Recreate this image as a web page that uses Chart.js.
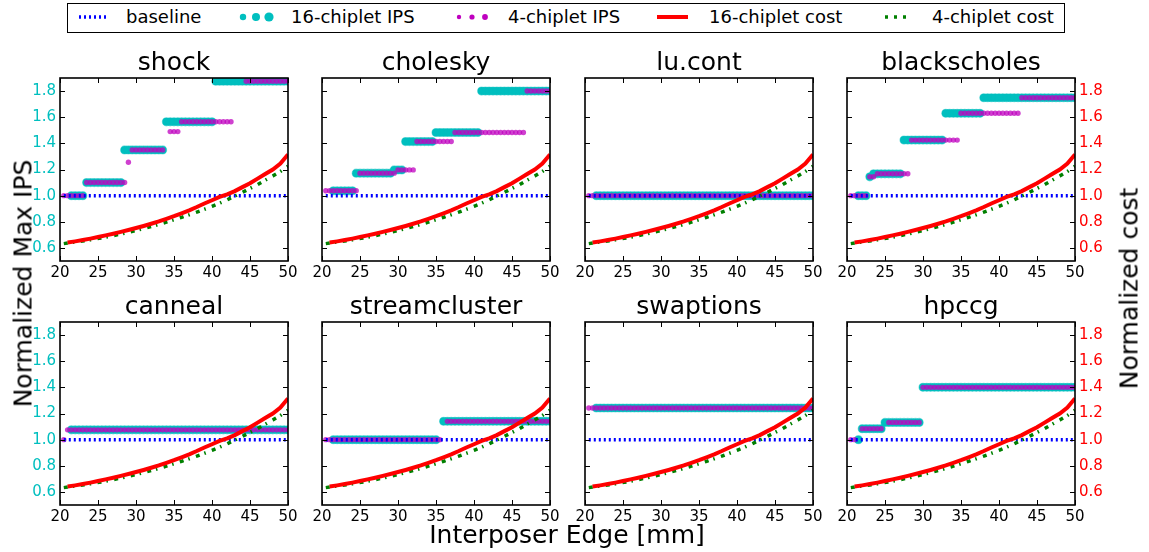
<!DOCTYPE html>
<html>
<head>
<meta charset="utf-8">
<script src="https://cdn.jsdelivr.net/npm/chart.js@4.4.1/dist/chart.umd.min.js"></script>
<style>
  body { margin: 0; background: #fff; }
  #fig { position: relative; width: 1149px; height: 552px; overflow: hidden; font-family: 'DejaVu Sans', sans-serif; }
  #fig canvas { position: absolute; }
  .lbl { position: absolute; color: #000; white-space: nowrap; }
  .leg { position: absolute; top: 8px; font-size: 18px; line-height: 18px; }
  .axt { font-size: 25px; line-height: 25px; text-align: center; }
  #legbox { position: absolute; left: 67px; top: 3px; width: 998px; height: 30px; border: 1.5px solid #000; box-sizing: border-box; }
  #legsw { position: absolute; left: 0; top: 0; }
</style>
</head>
<body>
<div id="fig">
  <div id="legbox"></div>
  <svg id="legsw" width="1149" height="40">
    <line x1="79" y1="17" x2="107" y2="17" stroke="#0000ff" stroke-width="3.5" stroke-dasharray="2 3"/>
    <circle cx="243" cy="17" r="3.2" fill="#00bfbf"/>
    <circle cx="256" cy="17" r="4" fill="#00bfbf"/>
    <circle cx="269" cy="17" r="4.6" fill="#00bfbf"/>
    <circle cx="459" cy="17" r="2.2" fill="#bf00bf"/>
    <circle cx="472" cy="17" r="2.6" fill="#bf00bf"/>
    <circle cx="485" cy="17" r="2.9" fill="#bf00bf"/>
    <line x1="657" y1="17" x2="688" y2="17" stroke="#ff0000" stroke-width="4"/>
    <line x1="885" y1="17" x2="908" y2="17" stroke="#008000" stroke-width="3.5" stroke-dasharray="3 6"/>
  </svg>
  <div class="lbl leg" style="left:126px">baseline</div>
  <div class="lbl leg" style="left:291px">16-chiplet IPS</div>
  <div class="lbl leg" style="left:508px">4-chiplet IPS</div>
  <div class="lbl leg" style="left:709px">16-chiplet cost</div>
  <div class="lbl leg" style="left:932px">4-chiplet cost</div>
  <div class="lbl axt" style="left:367px; top:522px; width:400px;">Interposer Edge [mm]</div>
  <div class="lbl axt" style="left:-127px; top:271px; width:300px; height:25px; transform:rotate(-90deg);">Normalized Max IPS</div>
  <div class="lbl axt" style="left:979px; top:276px; width:300px; height:25px; transform:rotate(-90deg);">Normalized cost</div>
</div>
<script>
// interposer edge sizes [mm] where IPS was sampled
const edges = [20.5, 21, 21.5, 22, 22.5, 23, 23.5, 24, 24.5, 25, 25.5, 26, 26.5, 27, 27.5, 28, 28.5, 29, 29.5, 30,
  30.5, 31, 31.5, 32, 32.5, 33, 33.5, 34, 34.5, 35, 35.5, 36, 36.5, 37, 37.5, 38, 38.5, 39, 39.5, 40,
  40.5, 41, 41.5, 42, 42.5, 43, 43.5, 44, 44.5, 45, 45.5, 46, 46.5, 47, 47.5, 48, 48.5, 49, 49.5, 50];
const xTicks = [20, 25, 30, 35, 40, 45, 50];
const yTicks = [0.6, 0.8, 1.0, 1.2, 1.4, 1.6, 1.8];

// normalized cost curves (same in every panel)
const costX16 = [21, 22, 23, 24, 25, 26, 27, 28, 29, 30, 31, 32, 33, 34, 35, 36, 37, 38, 39, 40, 41, 42, 43, 44, 45, 46, 47, 48, 49, 50];
const cost16 = [0.641, 0.650, 0.660, 0.671, 0.683, 0.696, 0.709, 0.723, 0.737, 0.752, 0.768, 0.785, 0.803, 0.823, 0.843,
  0.865, 0.888, 0.913, 0.940, 0.965, 0.990, 1.010, 1.035, 1.065, 1.095, 1.130, 1.165, 1.200, 1.245, 1.315];
const costX4 = [20.5, 22, 24, 26, 28, 30, 32, 34, 36, 38, 40, 41, 42, 43, 44, 45, 46, 47, 48, 49, 50];
const cost4 = [0.633, 0.645, 0.662, 0.682, 0.706, 0.733, 0.763, 0.797, 0.834, 0.874, 0.918, 0.942, 0.968, 0.997,
  1.025, 1.055, 1.085, 1.118, 1.150, 1.185, 1.225];
const baseX = [20.5, 50];
const baseY = [1, 1];

// max IPS steps: [from edge, to edge, value]
const shock16 = [[21.5, 23, 1.0], [23.5, 28, 1.1], [28.5, 33.5, 1.35], [34, 40, 1.565], [40.5, 50, 1.875]];
const shock4 = [[20.5, 23, 1.0], [23.5, 28.5, 1.1], [29, 29, 1.255], [29.5, 33.5, 1.35], [34.5, 35.5, 1.49], [36, 42.5, 1.565], [44.5, 50, 1.875]];
const cholesky16 = [[21.5, 24, 1.037], [24.5, 29, 1.172], [29.5, 30.5, 1.197], [31, 34.5, 1.414], [35, 40.5, 1.483], [41, 50, 1.8]];
const cholesky4 = [[20.5, 24.5, 1.037], [25, 29.5, 1.172], [30, 32, 1.197], [32.5, 37, 1.414], [37.5, 46.5, 1.483], [47, 50, 1.8]];
const lucont16 = [[21.5, 50, 1.0]];
const lucont4 = [[20.5, 50, 1.0]];
const blackscholes16 = [[21.5, 22.5, 1.0], [23, 23, 1.144], [23.5, 27, 1.167], [27.5, 32.5, 1.425], [33, 37.5, 1.63], [38, 50, 1.749]];
const blackscholes4 = [[20.5, 22.5, 1.0], [23, 23.5, 1.144], [24, 28, 1.167], [28.5, 34.5, 1.425], [35, 42.5, 1.63], [43, 50, 1.749]];
const canneal16 = [[21.5, 50, 1.075]];
const canneal4 = [[20.5, 20.5, 1.0], [21, 50, 1.075]];
const streamcluster16 = [[21.5, 35, 1.0], [36, 50, 1.14]];
const streamcluster4 = [[20.5, 35.5, 1.0], [36.5, 50, 1.14]];
const swaptions16 = [[21.5, 50, 1.242]];
const swaptions4 = [[20.5, 50, 1.242]];
const hpccg16 = [[21.5, 21.5, 1.0], [22, 24.5, 1.084], [25, 29.5, 1.132], [30, 50, 1.4]];
const hpccg4 = [[20.5, 21, 1.0], [22, 24.5, 1.084], [25.5, 29.5, 1.132], [30, 50, 1.4]];

const panels = [
  ['shock', shock16, shock4], ['cholesky', cholesky16, cholesky4],
  ['lu.cont', lucont16, lucont4], ['blackscholes', blackscholes16, blackscholes4],
  ['canneal', canneal16, canneal4], ['streamcluster', streamcluster16, streamcluster4],
  ['swaptions', swaptions16, swaptions4], ['hpccg', hpccg16, hpccg4]
];

const plotLefts = [60, 322, 585, 847];
const plotTops = [78, 322];
const PW = 228, PH = 183, SIDE = 45, TOP = 30, BOT = 25;
const FONT = 'DejaVu Sans';

function pairs(xs, ys) {
  return xs.map((x, i) => ({ x: x, y: ys[i] }));
}
function steps(segs) {
  const pts = [];
  segs.forEach(([a, b, v]) => {
    edges.forEach(e => { if (e >= a - 1e-6 && e <= b + 1e-6) pts.push({ x: e, y: v }); });
  });
  return pts;
}

// inward ticks on all four sides + frame, like the matplotlib original
const frameTicks = {
  id: 'frameTicks',
  afterDraw(chart) {
    const { ctx, chartArea: a, scales } = chart;
    ctx.save();
    ctx.strokeStyle = '#000';
    ctx.lineWidth = 1;
    ctx.beginPath();
    xTicks.forEach(v => {
      const px = Math.round(scales.x.getPixelForValue(v)) + 0.5;
      ctx.moveTo(px, a.bottom); ctx.lineTo(px, a.bottom - 5);
      ctx.moveTo(px, a.top); ctx.lineTo(px, a.top + 5);
    });
    yTicks.forEach(v => {
      const py = Math.round(scales.y.getPixelForValue(v)) + 0.5;
      ctx.moveTo(a.left, py); ctx.lineTo(a.left + 5, py);
      ctx.moveTo(a.right, py); ctx.lineTo(a.right - 5, py);
    });
    ctx.stroke();
    ctx.lineWidth = 1.6;
    ctx.strokeRect(a.left, a.top, a.right - a.left, a.bottom - a.top);
    ctx.restore();
  }
};

const fig = document.getElementById('fig');

panels.forEach(([name, s16, s4], i) => {
  const col = i % 4, row = Math.floor(i / 4);
  const cv = document.createElement('canvas');
  cv.width = PW + 2 * SIDE;
  cv.height = PH + TOP + BOT;
  cv.style.left = (plotLefts[col] - SIDE) + 'px';
  cv.style.top = (plotTops[row] - TOP) + 'px';
  fig.insertBefore(cv, fig.firstChild);

  const yAxis = (pos, show, color) => ({
    position: pos, min: 0.5, max: 1.9,
    afterBuildTicks: s => { s.ticks = yTicks.map(v => ({ value: v })); },
    afterFit: s => { s.width = SIDE; },
    grid: { display: false, drawTicks: false },
    border: { display: false },
    ticks: { display: show, color: color, font: { family: FONT, size: 15 }, padding: 4,
      callback: v => v.toFixed(1) }
  });

  new Chart(cv, {
    type: 'scatter',
    data: {
      datasets: [
        { label: '16-chiplet cost', data: pairs(costX16, cost16), showLine: true, borderColor: '#ff0000',
          borderWidth: 4, pointRadius: 0, yAxisID: 'y2', clip: 0 },
        { label: '4-chiplet cost', data: pairs(costX4, cost4), showLine: true, borderColor: '#008000',
          borderWidth: 3.5, borderDash: [4, 5, 1.5, 6.5], pointRadius: 0, yAxisID: 'y2', clip: 0 },
        { label: 'baseline', data: pairs(baseX, baseY), showLine: true, borderColor: '#0000ff',
          borderWidth: 3.5, borderDash: [2, 3], pointRadius: 0, clip: 0 },
        { label: '4-chiplet IPS', data: steps(s4), pointRadius: 2.7, backgroundColor: 'rgba(191,0,191,0.75)',
          borderWidth: 0, clip: 0 },
        { label: '16-chiplet IPS', data: steps(s16), pointRadius: 4, backgroundColor: '#00bfbf',
          borderColor: 'rgba(0,191,191,0.45)', borderWidth: 1.2, clip: 0 }
      ]
    },
    options: {
      responsive: false,
      animation: false,
      devicePixelRatio: 1,
      events: [],
      layout: { padding: 0 },
      plugins: {
        legend: { display: false },
        tooltip: { enabled: false },
        title: { display: true, text: name, color: '#000', padding: 0,
          font: { family: FONT, size: 25, weight: 'normal', lineHeight: 1.2 } }
      },
      scales: {
        x: {
          type: 'linear', min: 20, max: 50,
          afterBuildTicks: s => { s.ticks = xTicks.map(v => ({ value: v })); },
          afterFit: s => { s.height = BOT; },
          grid: { display: false, drawTicks: false },
          border: { display: false },
          ticks: { color: '#000', font: { family: FONT, size: 15 }, padding: 3, maxRotation: 0,
            autoSkip: false, callback: v => String(v) }
        },
        y: yAxis('left', col === 0, '#00bfbf'),
        y2: yAxis('right', col === 3, '#ff0000')
      }
    },
    plugins: [frameTicks]
  });
});
</script>
</body>
</html>
